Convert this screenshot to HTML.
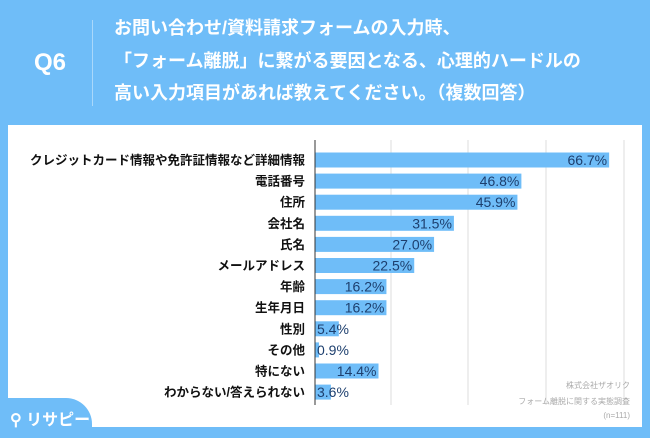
<!DOCTYPE html>
<html><head><meta charset="utf-8">
<style>
body{margin:0;width:650px;height:434px;overflow:hidden;background:#6fbdf8;font-family:"Liberation Sans","Noto Sans CJK JP",sans-serif;position:relative}
#q{position:absolute;left:34px;top:49px;color:#fff;font-weight:bold;font-size:24px}
#vline{position:absolute;left:92px;top:20px;width:1px;height:86px;background:#a9d8fb}
.t{position:absolute;left:114px;color:#fff;font-weight:bold;font-size:18px;white-space:nowrap}
#panel{position:absolute;left:8px;top:125px;width:634px;height:302px;background:#fff}
#tab{position:absolute;left:0;top:398px;width:92px;height:40px;background:#6fbdf8;border-top-right-radius:26px}
#logo{position:absolute;left:10px;top:406px;color:#fff;font-size:16px;font-weight:bold}
.note{position:absolute;right:20px;color:#aaa;font-size:8px;text-align:right}
</style></head><body>
<div id="q">Q6</div>
<div id="vline"></div>
<div class="t" style="top:14px">お問い合わせ/資料請求フォームの入力時、</div>
<div class="t" style="top:47px">「フォーム離脱」に繋がる要因となる、心理的ハードルの</div>
<div class="t" style="top:79px">高い入力項目があれば教えてください。（複数回答）</div>
<div id="panel"></div>
<svg id="chart" width="650" height="434" style="position:absolute;left:0;top:0"></svg>
<div class="note" style="top:380px">株式会社ザオリク</div>
<div class="note" style="top:396px">フォーム離脱に関する実態調査</div>
<div class="note" style="top:411px">(n=111)</div>
<div id="tab"></div>
<div id="logo">⚲ リサピー</div>
<script>
const categories=["クレジットカード情報や免許証情報など詳細情報","電話番号","住所","会社名","氏名","メールアドレス","年齢","生年月日","性別","その他","特にない","わからない/答えられない"];
const values=[66.7,46.8,45.9,31.5,27.0,22.5,16.2,16.2,5.4,0.9,14.4,3.6];
const gridX=[391,468,546,624];
const svg=document.getElementById('chart');
const NS='http://www.w3.org/2000/svg';
const x0=315,pxPer=4.41,y0=160,step=21.1,bh=15;
const xs=v=>x0+v*pxPer, ys=i=>y0+i*step;
function mk(t,a){const e=document.createElementNS(NS,t);for(const k in a)e.setAttribute(k,a[k]);svg.appendChild(e);return e;}
gridX.forEach(g=>{const l=mk('line',{x1:g,x2:g,y1:140,y2:405,stroke:'#ddd','stroke-width':1});

});
categories.forEach((c,i)=>{
 const y=ys(i);
 const r=mk('rect',{x:x0,y:y-bh/2,width:values[i]*pxPer,height:bh,fill:'#6fbdf8'});
 
 
 const lb=mk('text',{x:305,y:y+4.5,'text-anchor':'end','font-size':12.5,'font-weight':'bold',fill:'#111'});
 lb.textContent=c;
 
 
 const w=values[i]*pxPer;
 const inside=w>42;
 const vt=mk('text',{x:inside?x0+w-2:x0+2,y:y+5,'text-anchor':inside?'end':'start','font-size':14,fill:'#1d3f6e'});
 vt.textContent=values[i].toFixed(1)+'%';
 
 
});
const ax=mk('line',{x1:x0,x2:x0,y1:140,y2:405,stroke:'#333','stroke-width':1});


</script>
</body></html>
